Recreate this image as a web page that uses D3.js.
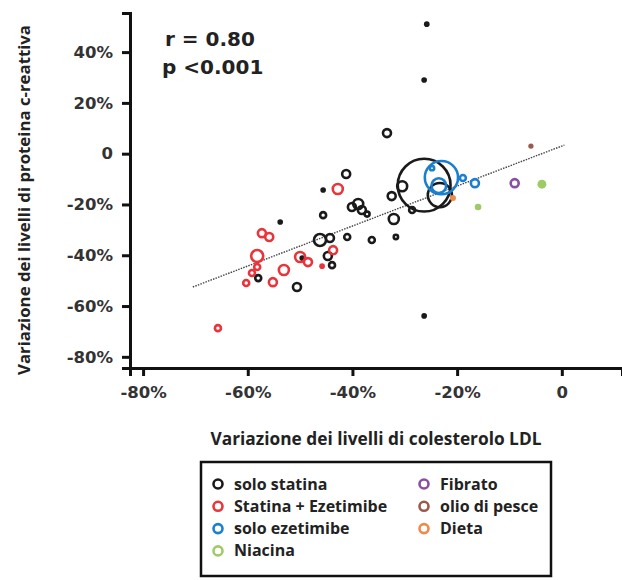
<!DOCTYPE html>
<html lang="it">
<head>
<meta charset="UTF-8">
<title>LDL vs PCR</title>
<style>
  body { margin: 0; background: #fff; }
  svg text { font-family: "Open Sans", "Noto Sans", sans-serif; }
</style>
</head>
<body>
<script src="https://d3js.org/d3.v7.min.js"></script>
<script>
// variazione LDL (%), variazione PCR (%), dimensione dello studio (n)
const statinaX = [-25.8, -26.3, -33.4, -41.2, -45.6, -45.6, -53.8, -40.1, -38.9, -38.2, -37.2, -32.5, -30.5, -26.3, -23.3, -28.6, -32.1, -31.7, -36.3, -46.2, -44.3, -41.0, -44.7, -43.9, -50.6, -58.0, -49.6, -26.3];
const statinaY = [51.0, 29.0, 8.1, -8.0, -14.3, -24.2, -26.9, -21.0, -19.8, -22.2, -23.8, -16.7, -12.8, -12.4, -16.3, -22.2, -25.7, -32.8, -34.0, -34.0, -33.2, -32.8, -40.3, -43.9, -52.5, -49.0, -41.1, -63.9];
const statinaN = [80, 80, 250, 250, 80, 160, 80, 250, 360, 250, 120, 250, 360, 7500, 1700, 160, 360, 100, 160, 490, 250, 160, 250, 160, 250, 160, 80, 80];

const ezeStatX = [-42.8, -57.3, -55.9, -58.2, -58.2, -59.2, -60.3, -53.1, -55.2, -50.0, -48.5, -43.7, -45.8, -65.7];
const ezeStatY = [-13.9, -31.3, -32.8, -40.3, -44.6, -47.0, -50.9, -45.8, -50.6, -40.7, -42.7, -38.0, -44.3, -68.7];
const ezeStatN = [360, 250, 250, 490, 160, 160, 160, 360, 250, 360, 250, 250, 80, 160];

const ezeX = [-23.0, -23.5, -24.8, -18.9, -16.6];
const ezeY = [-9.4, -12.6, -5.7, -9.6, -11.6];
const ezeN = [3100, 700, 100, 160, 250];

const niacinaX = [-16.0, -3.8];
const niacinaY = [-21.0, -12.0];
const niacinaN = [110, 200];

const fibratoX = [-9.0];
const fibratoY = [-11.6];
const fibratoN = [250];

const pesceX = [-5.9];
const pesceY = [3.0];
const pesceN = [70];

const dietaX = [-20.8];
const dietaY = [-17.5];
const dietaN = [90];

// retta di regressione
const trendX = [-70.5, 0.5];
const trendY = [-52.5, 3.4];

const xTicks = [-80, -60, -40, -20, 0];
const yTicks = [40, 20, 0, -20, -40, -60, -80];

const groups = [
  { name: 'solo statina', color: '#1a1a1a', x: statinaX, y: statinaY, n: statinaN, fillSmall: true },
  { name: 'Statina + Ezetimibe', color: '#e8343a', x: ezeStatX, y: ezeStatY, n: ezeStatN, fillSmall: true },
  { name: 'solo ezetimibe', color: '#1a7fcf', x: ezeX, y: ezeY, n: ezeN, fillSmall: false },
  { name: 'Niacina', color: '#9fcb66', x: niacinaX, y: niacinaY, n: niacinaN, fillAll: true },
  { name: 'Fibrato', color: '#8a4fa3', x: fibratoX, y: fibratoY, n: fibratoN },
  { name: 'olio di pesce', color: '#9a5a4a', x: pesceX, y: pesceY, n: pesceN, fillAll: true },
  { name: 'Dieta', color: '#f08a4b', x: dietaX, y: dietaY, n: dietaN, fillAll: true }
];

const width = 622;
const height = 580;

const svg = d3.select('body')
  .append('svg')
  .attr('width', width)
  .attr('height', height);

const x = d3.scaleLinear().domain([-82.5, 11.5]).range([130, 622]);
const y = d3.scaleLinear().domain([-84.4, 55.4]).range([368, 13]);
const r = d3.scaleSqrt().domain([0, 7500]).range([0, 27.4]);

const fmt = d => d === 0 ? '0' : d + '%';
const numFont = '"DejaVu Sans", Verdana, sans-serif';

// assi
const yAxis = svg.append('g')
  .attr('transform', 'translate(130,0)')
  .call(d3.axisLeft(y).tickValues(yTicks).tickFormat(fmt).tickSize(8).tickPadding(9));
const xAxis = svg.append('g')
  .attr('transform', 'translate(0,368)')
  .call(d3.axisBottom(x).tickValues(xTicks).tickFormat(fmt).tickSize(8).tickPadding(6));

[xAxis, yAxis].forEach(a => {
  a.select('.domain').attr('stroke', '#111').attr('stroke-width', 3);
  a.selectAll('.tick line').attr('stroke', '#111').attr('stroke-width', 3);
  a.selectAll('.tick text')
    .attr('fill', '#333')
    .style('font-family', numFont)
    .style('font-weight', 'bold')
    .style('font-size', '16.5px');
});
xAxis.selectAll('.tick text').attr('dy', '0.97em');

// linea tratteggiata
svg.append('line')
  .attr('x1', x(trendX[0])).attr('y1', y(trendY[0]))
  .attr('x2', x(trendX[1])).attr('y2', y(trendY[1]))
  .attr('stroke', '#444')
  .attr('stroke-width', 1.4)
  .attr('stroke-dasharray', '1.5,1.2');

// punti
groups.forEach(g => {
  const pts = g.x.map((v, i) => ({ x: v, y: g.y[i], n: g.n[i] }));
  const solid = d => g.fillAll || (g.fillSmall && d.n < 90);
  svg.append('g').selectAll('circle')
    .data(pts)
    .enter()
    .append('circle')
    .attr('cx', d => x(d.x))
    .attr('cy', d => y(d.y))
    .attr('r', d => solid(d) ? r(d.n) : Math.max(r(d.n) - 1, 2))
    .attr('fill', d => solid(d) ? g.color : 'none')
    .attr('stroke', g.color)
    .attr('stroke-width', d => solid(d) ? 0 : 2.6);
});

// statistiche
svg.append('text').attr('x', 165).attr('y', 46)
  .style('font-family', numFont)
  .style('font-weight', 'bold').style('font-size', '20px').attr('fill', '#222')
  .text('r = 0.80');
svg.append('text').attr('x', 162).attr('y', 74)
  .style('font-family', numFont)
  .style('font-weight', 'bold').style('font-size', '20px').attr('fill', '#222')
  .text('p <0.001');

// titoli assi
svg.append('text')
  .attr('transform', 'translate(30,200) rotate(-90)')
  .attr('text-anchor', 'middle')
  .style('font-weight', 'bold').style('font-size', '16.8px').attr('fill', '#222')
  .text('Variazione dei livelli di proteina c-reattiva');
svg.append('text')
  .attr('x', 376).attr('y', 445)
  .attr('text-anchor', 'middle')
  .style('font-weight', 'bold').style('font-size', '17.3px').attr('fill', '#222')
  .text('Variazione dei livelli di colesterolo LDL');

// legenda
const legend = svg.append('g');
legend.append('rect')
  .attr('x', 201).attr('y', 462).attr('width', 350).attr('height', 114)
  .attr('fill', 'none').attr('stroke', '#111').attr('stroke-width', 2.5);
groups.forEach((g, i) => {
  const col = i < 4 ? 0 : 1;
  const row = i < 4 ? i : i - 4;
  const lx = col === 0 ? 218 : 424;
  const ly = 484 + row * 22.3;
  legend.append('circle')
    .attr('cx', lx).attr('cy', ly).attr('r', 4.5)
    .attr('fill', 'none').attr('stroke', g.color).attr('stroke-width', 2.6);
  legend.append('text')
    .attr('x', lx + 16).attr('y', ly + 5.5)
    .style('font-weight', 'bold').style('font-size', '16px').attr('fill', '#222')
    .text(g.name);
});
</script>
</body>
</html>
